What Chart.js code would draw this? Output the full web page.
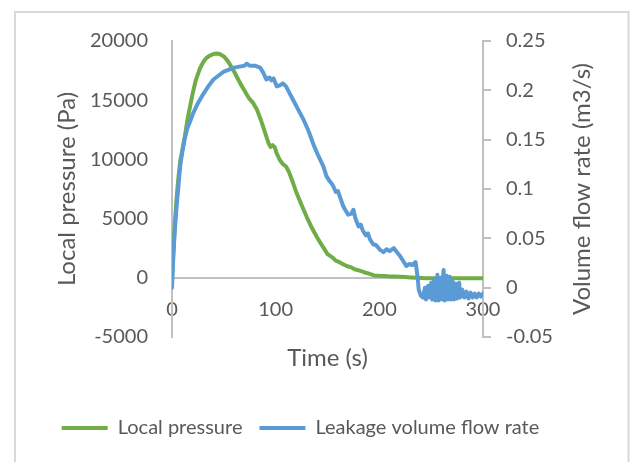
<!DOCTYPE html>
<html>
<head>
<meta charset="utf-8">
<script src="https://cdn.jsdelivr.net/npm/chart.js@4/dist/chart.umd.min.js"></script>
<style>
  html, body { margin: 0; padding: 0; background: #ffffff; }
  #wrap { position: relative; width: 630px; height: 462px; }
</style>
</head>
<body>
<div id="wrap"><canvas id="chart" width="630" height="462"></canvas></div>
<script>
// ---- data ----
const pressureTime = [0, 1, 2, 3, 4, 5, 6, 8, 10, 12.5, 15, 17.5, 20, 23, 27, 30, 33, 36, 40, 43, 46, 50, 53, 56, 60, 63, 66, 70, 74, 78, 82, 85, 87, 90, 93, 95, 97, 99, 101, 104, 107, 110, 113, 116, 120, 125, 130, 135, 140, 145, 150, 155, 158, 162, 166, 170, 173, 176, 181, 186, 190, 195, 200, 205, 210, 215, 220, 225, 230, 236, 245, 260, 280, 300];
const pressureValues = [0, 1800, 3500, 4900, 6200, 7300, 8300, 9900, 10800, 12000, 13400, 14500, 15600, 16700, 17700, 18200, 18550, 18750, 18900, 18950, 18900, 18700, 18400, 18000, 17400, 16900, 16400, 15800, 15200, 14800, 14200, 13500, 13000, 12200, 11400, 11050, 11200, 11050, 10500, 9950, 9600, 9400, 8900, 8200, 7200, 6150, 5130, 4200, 3400, 2700, 2000, 1700, 1450, 1300, 1100, 950, 880, 720, 600, 450, 350, 200, 170, 150, 120, 100, 85, 60, 30, 0, -30, -40, -40, -40];

const flowTime = [0, 1, 2, 3, 4, 5, 6, 7, 8, 10, 12.5, 15, 18, 20.5, 25, 30, 35, 40, 45, 50, 55, 60, 65, 70, 72, 75, 80, 85, 88, 91, 94, 96, 98, 101, 104, 107, 110, 113, 117, 122, 127, 132, 136.5, 141, 146, 149, 152, 155, 158, 160, 162, 165, 167, 170, 173, 175, 177, 180, 182, 184, 187, 189, 191, 194, 197, 201, 204, 207, 210, 214, 217, 220, 223, 226, 229, 232, 235, 237, 238, 240, 242, 244, 245, 247, 248, 250, 251, 253, 254, 256, 257, 259, 260, 262, 263, 265, 266, 268, 269, 271, 272, 274, 275, 277, 278, 280, 282, 284, 286, 288, 290, 292, 294, 296, 298, 300];
const flowValues = [0, 0.025, 0.045, 0.062, 0.076, 0.089, 0.1, 0.113, 0.124, 0.138, 0.152, 0.162, 0.17, 0.177, 0.187, 0.196, 0.204, 0.211, 0.215, 0.219, 0.221, 0.223, 0.224, 0.225, 0.227, 0.225, 0.225, 0.223, 0.218, 0.211, 0.213, 0.21, 0.212, 0.204, 0.205, 0.207, 0.204, 0.198, 0.19, 0.18, 0.17, 0.158, 0.145, 0.134, 0.123, 0.113, 0.108, 0.104, 0.097, 0.098, 0.092, 0.083, 0.079, 0.074, 0.075, 0.079, 0.07, 0.062, 0.064, 0.058, 0.053, 0.055, 0.049, 0.044, 0.043, 0.038, 0.036, 0.039, 0.037, 0.04, 0.036, 0.032, 0.027, 0.022, 0.024, 0.023, 0.026, 0.01, -0.002, -0.008, -0.01, 0.0, -0.012, 0.002, -0.01, 0.005, -0.012, 0.008, -0.013, 0.013, -0.013, 0.01, -0.012, 0.018, -0.013, 0.012, -0.012, 0.011, -0.012, 0.006, -0.012, 0.004, -0.011, 0.005, -0.01, -0.002, -0.01, -0.004, -0.011, -0.005, -0.01, -0.006, -0.01, -0.006, -0.009, -0.006];

const pressureTicks = [-5000, 0, 5000, 10000, 15000, 20000];
const flowTicks = [-0.05, 0, 0.05, 0.1, 0.15, 0.2, 0.25];
const timeTicks = [0, 100, 200, 300];

const textColor = '#595959';
const axisColor = '#c0c0c0';
const padRight = 29;
Chart.defaults.font.family = "Lato, 'Open Sans', sans-serif";
Chart.defaults.color = textColor;

// frame around the chart + right axis title (reads bottom to top)
const decor = {
  id: 'decor',
  beforeDraw(chart) {
    const ctx = chart.ctx;
    ctx.save();
    ctx.strokeStyle = '#d9d9d9';
    ctx.lineWidth = 2;
    ctx.strokeRect(15, 12, 613.5, 480);
    ctx.restore();
  },
  afterDraw(chart) {
    const ctx = chart.ctx;
    const area = chart.chartArea;
    ctx.save();
    ctx.translate(582, (area.top + area.bottom) / 2);
    ctx.rotate(-Math.PI / 2);
    ctx.font = "24px Lato, 'Open Sans', sans-serif";
    ctx.fillStyle = textColor;
    ctx.textAlign = 'center';
    ctx.textBaseline = 'middle';
    ctx.fillText('Volume flow rate (m3/s)', 0, 0);
    ctx.restore();
  }
};

const fixedTicks = list => scale => { scale.ticks = list.map(v => ({ value: v })); };

new Chart(document.getElementById('chart'), {
  type: 'line',
  data: {
    datasets: [
      {
        label: 'Local pressure',
        data: pressureTime.map((t, i) => ({ x: t, y: pressureValues[i] })),
        xAxisID: 'x', yAxisID: 'y',
        borderColor: '#70ad47', backgroundColor: '#70ad47',
        borderWidth: 4, borderCapStyle: 'round', borderJoinStyle: 'round',
        pointRadius: 0, tension: 0, order: 1
      },
      {
        label: 'Leakage volume flow rate',
        data: flowTime.map((t, i) => ({ x: t, y: flowValues[i] })),
        xAxisID: 'x', yAxisID: 'y1',
        borderColor: '#5b9bd5', backgroundColor: '#5b9bd5',
        borderWidth: 4, borderCapStyle: 'round', borderJoinStyle: 'round',
        pointRadius: 0, tension: 0, order: 0
      }
    ]
  },
  options: {
    responsive: false,
    animation: false,
    layout: { padding: { left: 0, right: padRight, top: 41, bottom: 14 } },
    plugins: {
      legend: {
        position: 'bottom',
        labels: {
          usePointStyle: true, pointStyle: 'line', pointStyleWidth: 46,
          padding: 17, color: textColor, font: { size: 20 },
          sort: (a, b) => a.datasetIndex - b.datasetIndex
        }
      },
      tooltip: { enabled: false }
    },
    scales: {
      x: {
        type: 'linear', min: 0, max: 300, position: { y: 0 },
        afterBuildTicks: fixedTicks(timeTicks),
        ticks: { padding: 20, font: { size: 20 }, color: textColor, maxRotation: 0 },
        grid: { display: false, drawTicks: false },
        border: { color: axisColor, width: 2 }
      },
      x2: {
        type: 'linear', min: 0, max: 300, position: 'bottom',
        ticks: { display: false },
        grid: { display: false, drawTicks: false },
        border: { display: false },
        title: { display: true, text: 'Time (s)', font: { size: 24 }, color: textColor, padding: { top: 0, bottom: 28.6 } },
        afterFit: s => { s.height = 64; }
      },
      y: {
        type: 'linear', position: 'left', min: -5000, max: 20000,
        afterBuildTicks: fixedTicks(pressureTicks),
        ticks: { padding: 24, font: { size: 20 }, color: textColor, callback: v => String(v) },
        grid: { display: false, drawTicks: false },
        border: { color: axisColor, width: 2 },
        title: { display: true, text: 'Local pressure (Pa)', font: { size: 24 }, color: textColor, padding: { top: 52.6, bottom: 0 } },
        afterFit: s => { s.width = 172; }
      },
      y1: {
        type: 'linear', position: 'right', min: -0.05, max: 0.25,
        afterBuildTicks: fixedTicks(flowTicks),
        ticks: { padding: 15, font: { size: 20 }, color: textColor, callback: v => String(+v.toFixed(2)) },
        grid: { drawOnChartArea: false, drawTicks: true, tickLength: 8, color: axisColor, lineWidth: 2 },
        border: { color: axisColor, width: 2 },
        afterFit: s => { s.width = 630 - padRight - 483; }
      }
    }
  },
  plugins: [decor]
});
</script>
</body>
</html>
